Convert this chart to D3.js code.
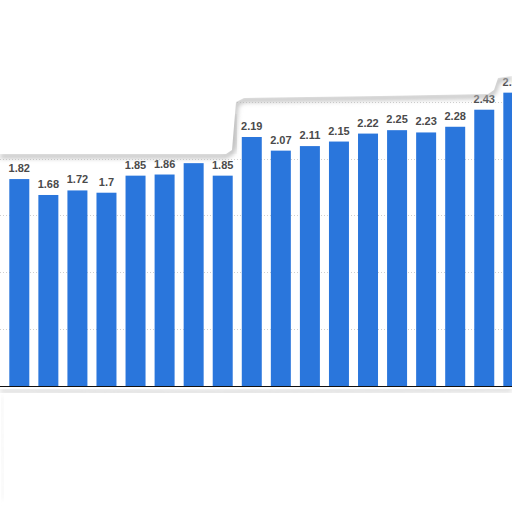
<!DOCTYPE html>
<html>
<head>
<meta charset="utf-8">
<script src="https://cdn.jsdelivr.net/npm/d3@7"></script>
<style>
  body { margin: 0; background: #fff; }
  svg { display: block; }
  .label { font-family: "Liberation Sans", Arial, sans-serif; font-size: 11px; font-weight: bold; fill: #4a4a4a; }
</style>
</head>
<body>
<svg id="chart"></svg>
<script>
const values = [1.82, 1.68, 1.72, 1.7, 1.85, 1.86, 1.96, 1.85, 2.19, 2.07, 2.11, 2.15, 2.22, 2.25, 2.23, 2.28, 2.43, 2.58];
const labels = ['1.82', '1.68', '1.72', '1.7', '1.85', '1.86', '', '1.85', '2.19', '2.07', '2.11', '2.15', '2.22', '2.25', '2.23', '2.28', '2.43', '2.58'];
const gridTicks = [0.5, 1, 1.5, 2, 2.5];

const width = 512, height = 512;
const step = 29.06;
const x0 = 9.3 - step * 0.156;

const svg = d3.select('#chart').attr('width', width).attr('height', height);

const x = d3.scaleBand()
    .domain(d3.range(values.length))
    .range([x0, x0 + values.length * step])
    .paddingInner(0.312)
    .paddingOuter(0.156);

const y = d3.scaleLinear().domain([0, 2.5]).range([386, 101.75]);

// dotted gridlines
svg.append('g')
    .selectAll('line')
    .data(gridTicks)
    .join('line')
    .attr('x1', 0).attr('x2', width)
    .attr('y1', d => Math.round(y(d)) + 0.5).attr('y2', d => Math.round(y(d)) + 0.5)
    .attr('stroke', '#cfcfcf')
    .attr('stroke-width', 1)
    .attr('stroke-dasharray', '1,2');

svg.append('g')
    .selectAll('rect')
    .data(values)
    .join('rect')
    .attr('x', (d, i) => x(i))
    .attr('width', x.bandwidth())
    .attr('y', d => y(d))
    .attr('height', d => y(0) - y(d))
    .attr('fill', '#2a76dc');

svg.append('g')
    .selectAll('text')
    .data(values)
    .join('text')
    .attr('class', 'label')
    .attr('x', (d, i) => x(i) + x.bandwidth() / 2)
    .attr('y', d => y(d) - 7)
    .attr('text-anchor', 'middle')
    .text((d, i) => labels[i]);

// baseline
svg.append('line')
    .attr('x1', 0).attr('x2', width)
    .attr('y1', y(0) + 0.5).attr('y2', y(0) + 0.5)
    .attr('stroke', '#111').attr('stroke-width', 1.2);

// torn-paper overlay on top and bottom
const defs = svg.append('defs');
defs.append('filter').attr('id', 'blur')
    .append('feGaussianBlur').attr('stdDeviation', 2.4);
defs.append('filter').attr('id', 'blurSoft')
    .append('feGaussianBlur').attr('stdDeviation', 4);

const edge = [[0, 156], [226, 156], [232, 152], [236, 104], [244, 100], [380, 98], [488, 96], [494, 92], [498, 80], [512, 78]];
const topShape = [[0, 0]].concat(edge, [[512, 0]]);
const line = d3.line().curve(d3.curveLinear);

svg.append('path')
    .attr('d', line([[210, 120], [232, 118], [234, 150]]))
    .attr('fill', 'none')
    .attr('stroke', '#c8c8c8')
    .attr('stroke-width', 8)
    .attr('filter', 'url(#blurSoft)');
svg.append('path')
    .attr('d', line(edge))
    .attr('fill', 'none')
    .attr('stroke', '#b4b4b4')
    .attr('stroke-width', 4)
    .attr('filter', 'url(#blur)');
svg.append('path')
    .attr('d', line(topShape) + 'Z')
    .attr('fill', '#fff')
    .attr('transform', 'translate(0,-2)');

svg.append('path')
    .attr('d', line([[0, 391], [200, 392], [512, 390]]))
    .attr('fill', 'none')
    .attr('stroke', '#c8c8c8')
    .attr('stroke-width', 3)
    .attr('filter', 'url(#blur)');
svg.append('path')
    .attr('d', line([[0, 394], [0, 512], [512, 512], [512, 393], [200, 395]]) + 'Z')
    .attr('fill', '#fff');
svg.append('path')
    .attr('d', line([[2, 396], [3, 500]]))
    .attr('stroke', '#f0f0f0').attr('stroke-width', 2)
    .attr('filter', 'url(#blur)');
</script>
</body>
</html>
